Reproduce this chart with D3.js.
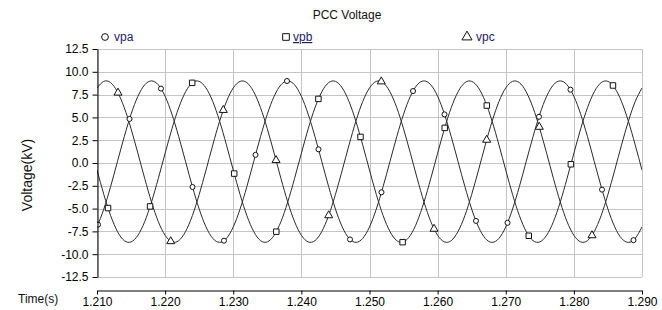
<!DOCTYPE html>
<html>
<head>
<meta charset="utf-8">
<script src="https://cdn.jsdelivr.net/npm/d3@7"></script>
<style>
body { margin: 0; background: #fff; }
text { font-family: "Liberation Sans", Arial, sans-serif; }
</style>
</head>
<body>
<svg id="chart" width="662" height="310"></svg>
<script>
// sample clock: 1 ms steps from 1.210 s
var t0 = 1.21, dt = 0.001;

// PCC phase voltages (kV), one value per ms
var vpa = [-7.01, -5.05, -2.58, 0.15, 2.88, 5.35, 7.31, 8.57, 9.00, 8.57, 7.31, 5.35, 2.88, 0.15, -2.58, -5.05, -7.01, -8.27, -8.70, -8.27,
           -7.01, -5.05, -2.58, 0.15, 2.88, 5.35, 7.31, 8.57, 9.00, 8.57, 7.31, 5.35, 2.88, 0.15, -2.58, -5.05, -7.01, -8.27, -8.70, -8.27,
           -7.01, -5.05, -2.58, 0.15, 2.88, 5.35, 7.31, 8.57, 9.00, 8.57, 7.31, 5.35, 2.88, 0.15, -2.58, -5.05, -7.01, -8.27, -8.70, -8.27,
           -7.01, -5.05, -2.58, 0.15, 2.88, 5.35, 7.31, 8.57, 9.00, 8.57, 7.31, 5.35, 2.88, 0.15, -2.58, -5.05, -7.01, -8.27, -8.70, -8.27,
           -7.01];
var vpb = [-0.78, -3.45, -5.77, -7.51, -8.51, -8.65, -7.93, -6.43, -4.28, -1.69, 1.07, 3.75, 6.07, 7.81, 8.81, 8.95, 8.23, 6.73, 4.58, 1.99,
           -0.78, -3.45, -5.77, -7.51, -8.51, -8.65, -7.93, -6.43, -4.28, -1.69, 1.07, 3.75, 6.07, 7.81, 8.81, 8.95, 8.23, 6.73, 4.58, 1.99,
           -0.78, -3.45, -5.77, -7.51, -8.51, -8.65, -7.93, -6.43, -4.28, -1.69, 1.07, 3.75, 6.07, 7.81, 8.81, 8.95, 8.23, 6.73, 4.58, 1.99,
           -0.78, -3.45, -5.77, -7.51, -8.51, -8.65, -7.93, -6.43, -4.28, -1.69, 1.07, 3.75, 6.07, 7.81, 8.81, 8.95, 8.23, 6.73, 4.58, 1.99,
           -0.78];
var vpc = [8.23, 8.95, 8.81, 7.81, 6.07, 3.75, 1.07, -1.69, -4.28, -6.43, -7.93, -8.65, -8.51, -7.51, -5.77, -3.45, -0.78, 1.99, 4.58, 6.73,
           8.23, 8.95, 8.81, 7.81, 6.07, 3.75, 1.07, -1.69, -4.28, -6.43, -7.93, -8.65, -8.51, -7.51, -5.77, -3.45, -0.78, 1.99, 4.58, 6.73,
           8.23, 8.95, 8.81, 7.81, 6.07, 3.75, 1.07, -1.69, -4.28, -6.43, -7.93, -8.65, -8.51, -7.51, -5.77, -3.45, -0.78, 1.99, 4.58, 6.73,
           8.23, 8.95, 8.81, 7.81, 6.07, 3.75, 1.07, -1.69, -4.28, -6.43, -7.93, -8.65, -8.51, -7.51, -5.77, -3.45, -0.78, 1.99, 4.58, 6.73,
           8.23];

// marker points on each trace (time s, value kV)
var markA_t = [1.21015, 1.21477, 1.21939, 1.22402, 1.22864, 1.23327, 1.23789, 1.24251, 1.24714, 1.25176, 1.25639, 1.26101, 1.26563, 1.27026, 1.27488, 1.27950, 1.28413, 1.28875];
var markA_v = [-6.76, 4.83, 8.16, -2.63, -8.52, 0.89, 8.99, 1.50, -8.38, -3.21, 7.89, 5.33, -6.35, -6.56, 5.07, 8.04, -2.92, -8.46];
var markB_t = [1.21162, 1.21779, 1.22397, 1.23014, 1.23632, 1.24250, 1.24868, 1.25486, 1.26104, 1.26722, 1.27338, 1.27956, 1.28574];
var markB_v = [-4.94, -4.76, 8.79, -1.16, -7.53, 7.03, 2.86, -8.68, 3.85, 6.30, -7.98, -0.14, 8.50];
var markC_t = [1.21308, 1.22082, 1.22854, 1.23628, 1.24401, 1.25173, 1.25947, 1.26720, 1.27492, 1.28266];
var markC_v = [7.70, -8.59, 5.80, 0.30, -5.75, 8.93, -7.23, 2.53, 3.95, -7.94];

var seriesNames = ["vpa", "vpb", "vpc"];
var xTicks = [1.21, 1.22, 1.23, 1.24, 1.25, 1.26, 1.27, 1.28, 1.29];
var yTicks = [-12.5, -10, -7.5, -5, -2.5, 0, 2.5, 5, 7.5, 10, 12.5];

var time = vpa.map(function(d, i) { return +(t0 + i * dt).toFixed(3); });

var svg = d3.select("#chart");
var plotL = 97, plotR = 642, plotT = 49, plotB = 277;

var x = d3.scaleLinear().domain([1.21, 1.29]).range([plotL, plotR]);
var y = d3.scaleLinear().domain([-12.5, 12.5]).range([plotB, plotT]);

// grid
var grid = svg.append("g").attr("stroke", "#c4c4c4").attr("stroke-width", 1);
grid.selectAll("line.h").data(yTicks).enter().append("line")
    .attr("class", "h")
    .attr("x1", plotL).attr("x2", plotR)
    .attr("y1", function(d) { return Math.round(y(d)) + 0.5; })
    .attr("y2", function(d) { return Math.round(y(d)) + 0.5; });
grid.selectAll("line.v").data(xTicks).enter().append("line")
    .attr("class", "v")
    .attr("y1", plotT).attr("y2", plotB)
    .attr("x1", function(d) { return Math.round(x(d)) + 0.5; })
    .attr("x2", function(d) { return Math.round(x(d)) + 0.5; });

svg.append("clipPath").attr("id", "plotclip")
  .append("rect").attr("x", plotL).attr("y", plotT).attr("width", plotR - plotL).attr("height", plotB - plotT);

var line = d3.line()
    .x(function(d) { return x(d[0]); })
    .y(function(d) { return y(d[1]); })
    .curve(d3.curveNatural);

var plot = svg.append("g").attr("clip-path", "url(#plotclip)");
[vpa, vpb, vpc].forEach(function(vals) {
    plot.append("path")
        .datum(vals.map(function(v, i) { return [time[i], v]; }))
        .attr("fill", "none")
        .attr("stroke", "#2a2a2a")
        .attr("stroke-width", 1)
        .attr("d", line);
});

// markers
var shapes = [d3.symbolCircle, d3.symbolSquare, d3.symbolTriangle];
var sizes = [20, 30, 28];
var marks = [[markA_t, markA_v], [markB_t, markB_v], [markC_t, markC_v]];
marks.forEach(function(m, k) {
    var sym = d3.symbol().type(shapes[k]).size(sizes[k]);
    plot.selectAll("path.m" + k)
        .data(m[0].map(function(t, i) { return [t, m[1][i]]; }))
        .enter().append("path")
        .attr("class", "m" + k)
        .attr("d", sym)
        .attr("transform", function(d) { return "translate(" + x(d[0]) + "," + y(d[1]) + ")"; })
        .attr("fill", "#fff")
        .attr("stroke", "#111")
        .attr("stroke-width", 1);
});

// y axis
var yAxis = d3.axisLeft(y)
    .tickValues(yTicks)
    .tickSize(5)
    .tickSizeOuter(0)
    .tickPadding(4)
    .tickFormat(function(d) { return d.toFixed(1); });
svg.append("g")
    .attr("transform", "translate(" + (plotL + 0.5) + ",0)")
    .style("color", "#000")
    .call(yAxis)
    .call(function(g) { g.selectAll("text").attr("font-size", 12).attr("font-family", "Liberation Sans, Arial, sans-serif"); });

// x axis (separate, below plot)
var xAxis = d3.axisBottom(x)
    .tickValues(xTicks)
    .tickSize(4)
    .tickSizeOuter(0)
    .tickPadding(3)
    .tickFormat(function(d) { return d.toFixed(3); });
svg.append("g")
    .attr("transform", "translate(0," + 290.5 + ")")
    .style("color", "#000")
    .call(xAxis)
    .call(function(g) { g.selectAll("text").attr("font-size", 12).attr("font-family", "Liberation Sans, Arial, sans-serif"); });

// titles
svg.append("text").attr("x", 347).attr("y", 19).attr("text-anchor", "middle")
    .attr("font-size", 12).attr("fill", "#111").text("PCC Voltage");
svg.append("text").attr("transform", "translate(32,175) rotate(-90)").attr("text-anchor", "middle")
    .attr("font-size", 14).attr("fill", "#111").text("Voltage(kV)");
svg.append("text").attr("x", 18).attr("y", 303)
    .attr("font-size", 12).attr("fill", "#111").text("Time(s)");

// legend
var legX = [105, 286, 467];
var legend = svg.append("g");
seriesNames.forEach(function(name, k) {
    legend.append("path")
        .attr("d", d3.symbol().type(shapes[k]).size(k == 0 ? 36 : 44)())
        .attr("transform", "translate(" + legX[k] + ",37)")
        .attr("fill", "#fff").attr("stroke", "#111");
    legend.append("text")
        .attr("x", legX[k] + (k == 1 ? 7 : 9)).attr("y", 41)
        .attr("font-size", 12).attr("fill", "#1c1c6a")
        .style("text-decoration", k == 1 ? "underline" : "none")
        .text(name);
});
</script>
</body>
</html>
